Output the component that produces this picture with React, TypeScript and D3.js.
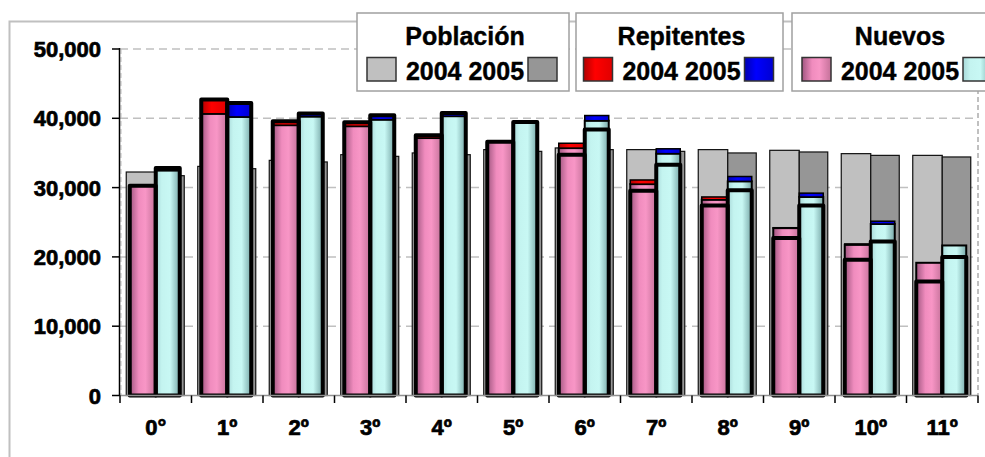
import React from "react";
import * as d3 from "d3";

const categories = ["0°", "1º", "2º", "3º", "4º", "5º", "6º", "7º", "8º", "9º", "10º", "11º"];
const yTicks = [0, 10000, 20000, 30000, 40000, 50000];

const poblacion2004 = [32250, 33060, 33930, 34750, 35000, 35480, 35720, 35480, 35480, 35380, 34900, 34650];
const poblacion2005 = [31720, 32730, 33700, 34510, 34750, 35230, 35480, 35230, 35000, 35140, 34650, 34420];

const nuevos2004 = [30250, 40650, 39000, 38850, 37150, 36630, 35700, 30500, 28250, 24150, 21750, 19150];
const repitentes2004 = [0, 2050, 570, 570, 390, 0, 700, 600, 400, 60, 120, 0];
const nuevos2005 = [32470, 40200, 40250, 39800, 40300, 39460, 39650, 34900, 30900, 28650, 24750, 21650];
const repitentes2005 = [350, 2000, 430, 630, 470, 0, 750, 700, 700, 550, 400, 0];

// thick-outlined base bars
const base2004 = [30250, 42700, 39570, 39420, 37540, 36630, 34750, 29550, 27430, 22720, 19580, 16450];
const base2005 = [32820, 42200, 40680, 40430, 40770, 39460, 38370, 33300, 29600, 27430, 22230, 19970];

const legendGroups = [
  { title: "Población", x: 357, w: 212, c1: "#c0c0c0", c2: "#969696" },
  { title: "Repitentes", x: 576, w: 207, c1: "url(#gRed)", c2: "url(#gBlue)" },
  { title: "Nuevos", x: 792, w: 212, c1: "url(#gPink)", c2: "url(#gCyan)" },
];

const FONT = "'Liberation Sans', Arial, sans-serif";

export default function App() {
  const x = d3.scaleBand<string>().domain(categories).range([120, 978]);
  const y = d3.scaleLinear().domain([0, 50000]).range([395.5, 49]);
  const fmt = d3.format(",");
  const bw = x.bandwidth();

  const cx = (i: number) => (x(categories[i]) as number) + bw / 2;

  const popW = 29.5;
  const frontL = 26;
  const frontR = 24;

  return (
    <svg width={985} height={457} style={{ position: "absolute", left: 0, top: 0, background: "#fff" }}>
      <defs>
        <linearGradient id="gPink" x1="0" x2="1" y1="0" y2="0">
          <stop offset="0" stopColor="#a05680" />
          <stop offset="0.35" stopColor="#f08cbe" />
          <stop offset="0.6" stopColor="#f896c6" />
          <stop offset="1" stopColor="#c47199" />
        </linearGradient>
        <linearGradient id="gCyan" x1="0" x2="1" y1="0" y2="0">
          <stop offset="0" stopColor="#a8d8d8" />
          <stop offset="0.25" stopColor="#c4f4f0" />
          <stop offset="0.6" stopColor="#c8f8f4" />
          <stop offset="1" stopColor="#78a8a8" />
        </linearGradient>
        <linearGradient id="gRed" x1="0" x2="1" y1="0" y2="0">
          <stop offset="0" stopColor="#b00000" />
          <stop offset="0.4" stopColor="#ff0000" />
          <stop offset="1" stopColor="#e00000" />
        </linearGradient>
        <linearGradient id="gBlue" x1="0" x2="1" y1="0" y2="0">
          <stop offset="0" stopColor="#0000b0" />
          <stop offset="0.4" stopColor="#0000ff" />
          <stop offset="1" stopColor="#0000d0" />
        </linearGradient>
      </defs>

      {/* outer chart border */}
      <rect x={9.5} y={21.5} width={1000} height={500} fill="none" stroke="#c0c0c0" strokeWidth={2} />

      {/* gridlines */}
      {yTicks.filter((t) => t > 0).map((t) => (
        <line key={"g" + t} x1={120} x2={978} y1={y(t)} y2={y(t)} stroke="#c0c0c0" strokeWidth={1.5} strokeDasharray="8,5" />
      ))}
      {/* plot area border right/left */}
      <line x1={978} x2={978} y1={49} y2={395.5} stroke="#c0c0c0" strokeWidth={2} strokeDasharray="5,3" />
      <line x1={121} x2={121} y1={49} y2={395.5} stroke="#c0c0c0" strokeWidth={1} strokeDasharray="5,3" />

      {/* population bars */}
      {categories.map((c, i) => (
        <g key={"p" + i}>
          <rect x={cx(i) - popW} y={y(poblacion2004[i])} width={popW} height={y(0) - y(poblacion2004[i])}
            fill="#c0c0c0" stroke="#111" strokeWidth={1.2} />
          <rect x={cx(i)} y={y(poblacion2005[i])} width={popW - 1} height={y(0) - y(poblacion2005[i])}
            fill="#969696" stroke="#111" strokeWidth={1.2} />
        </g>
      ))}

      {/* stacked nuevos + repitentes */}
      {[0, 1].map((yr) =>
        categories.map((c, i) => {
          const nu = yr === 0 ? nuevos2004[i] : nuevos2005[i];
          const re = yr === 0 ? repitentes2004[i] : repitentes2005[i];
          const bx = yr === 0 ? cx(i) - frontL : cx(i);
          const w = yr === 0 ? frontL : frontR;
          return (
            <g key={"s" + yr + "-" + i}>
              <rect x={bx} y={y(nu)} width={w} height={y(0) - y(nu)}
                fill={yr === 0 ? "url(#gPink)" : "url(#gCyan)"} stroke="#000" strokeWidth={2} />
              {re > 0 && (
                <rect x={bx} y={y(nu + re)} width={w} height={y(nu) - y(nu + re)}
                  fill={yr === 0 ? "url(#gRed)" : "url(#gBlue)"} stroke="#000" strokeWidth={1.5} />
              )}
            </g>
          );
        })
      )}

      {/* thick outlined base bars */}
      {[0, 1].map((yr) =>
        categories.map((c, i) => {
          const v = yr === 0 ? base2004[i] : base2005[i];
          const bx = yr === 0 ? cx(i) - frontL : cx(i);
          const w = yr === 0 ? frontL : frontR;
          return (
            <rect key={"f" + yr + "-" + i} x={bx} y={y(v)} width={w} height={y(0) - y(v)}
              fill="none" stroke="#000" strokeWidth={4} strokeLinejoin="round" />
          );
        })
      )}

      {/* axes */}
      <line x1={120} x2={978} y1={395.5} y2={395.5} stroke="#909090" strokeWidth={1.5} />
      <line x1={119.5} x2={119.5} y1={48} y2={396} stroke="#000" strokeWidth={1.5} />
      {yTicks.map((t) => (
        <g key={"yt" + t}>
          <line x1={112} x2={120} y1={y(t)} y2={y(t)} stroke="#000" strokeWidth={1.5} />
          <text x={101} y={y(t) + 8} textAnchor="end" fontFamily={FONT} fontWeight="bold" fontSize={22}
            fill="#000" stroke="#000" strokeWidth={0.7}>{fmt(t)}</text>
        </g>
      ))}
      {categories.map((c, i) => (
        <line key={"xt" + i} x1={x(c) as number} x2={x(c) as number} y1={395.5} y2={403} stroke="#000" strokeWidth={1.5} />
      ))}
      <line x1={978} x2={978} y1={395.5} y2={403} stroke="#000" strokeWidth={1.5} />
      {categories.map((c, i) => (
        <text key={"xl" + i} x={cx(i)} y={435} textAnchor="middle" fontFamily={FONT} fontWeight="bold" fontSize={22}
          fill="#000" stroke="#000" strokeWidth={0.7}>{c}</text>
      ))}

      {/* legends */}
      {legendGroups.map((g) => {
        const mid = g.x + g.w / 2 + 2;
        const tw = 116;
        return (
          <g key={g.title}>
            <rect x={g.x} y={13} width={g.w} height={78} fill="#fff" stroke="#a0a0a0" strokeWidth={1.5} />
            <text x={g.x + g.w / 2 + 2} y={45} textAnchor="middle" fontFamily={FONT} fontWeight="bold" fontSize={25}
              fill="#000" stroke="#000" strokeWidth={0.4}>{g.title}</text>
            <rect x={mid - tw / 2 - 40} y={57.5} width={29} height={23.5} fill={g.c1} stroke="#333" strokeWidth={1.5} />
            <text x={mid} y={80} textAnchor="middle" fontFamily={FONT} fontWeight="bold" fontSize={25}
              fill="#000" stroke="#000" strokeWidth={0.4}>2004 2005</text>
            <rect x={mid + tw / 2 + 5} y={57.5} width={29} height={23.5} fill={g.c2} stroke="#333" strokeWidth={1.5} />
          </g>
        );
      })}
    </svg>
  );
}
